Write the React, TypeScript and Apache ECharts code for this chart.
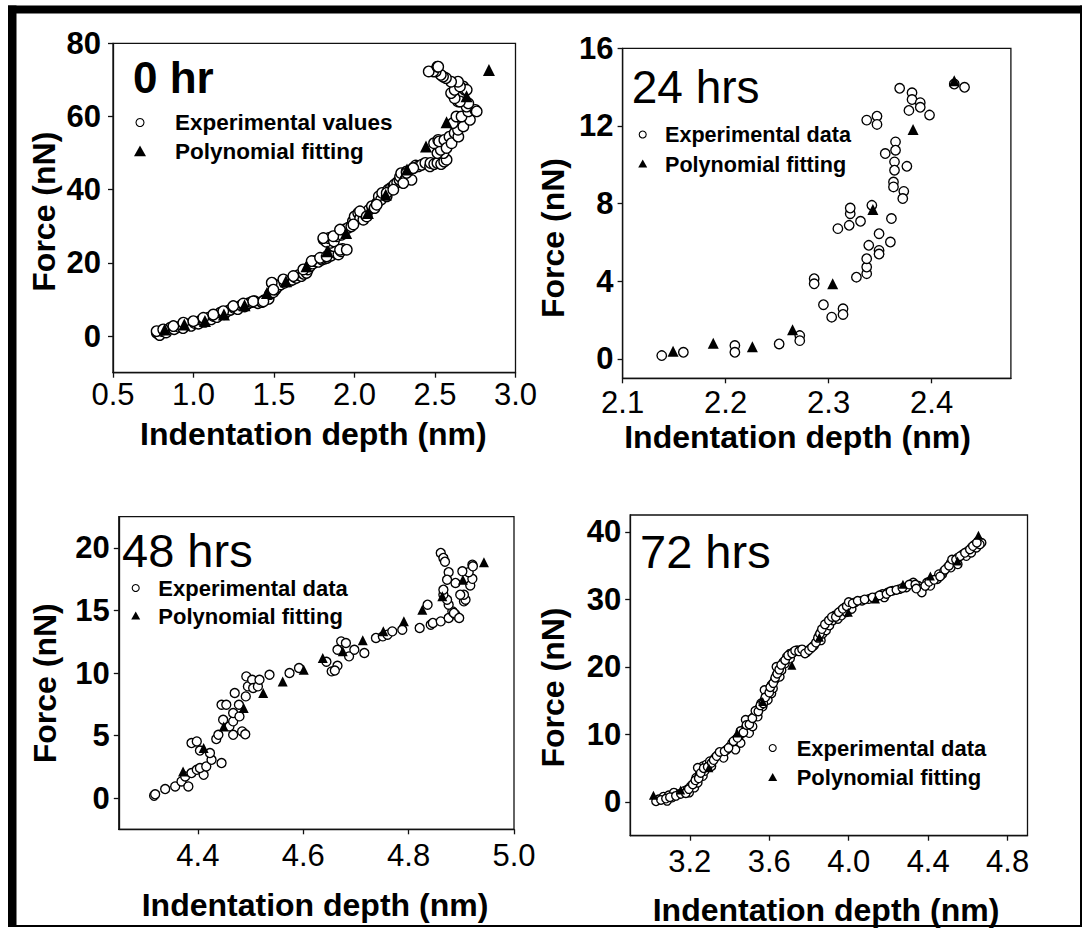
import React, { useEffect, useRef } from "react";
import * as echarts from "echarts";

const FONT = "'Liberation Sans', Arial, Helvetica, sans-serif";

// ---- 0 hr ----
const exp0: number[][] = [
  [0.772, 0.9], [0.79, 0.3], [0.804, 1.4], [0.83, 1.0], [0.857, 2.3], [0.88, 1.9], [0.911, 2.5], [0.935, 2.2],
  [0.964, 3.2], [0.985, 2.8], [1.007, 3.6], [1.03, 3.4], [1.05, 4.4], [1.07, 3.9], [1.092, 5.0], [1.11, 4.6],
  [1.124, 5.5], [1.145, 5.2], [1.167, 6.4], [1.19, 6.0], [1.21, 6.8], [1.23, 7.2], [1.253, 7.7], [1.275, 7.4],
  [1.296, 8.4], [1.318, 8.1], [1.338, 8.9], [1.36, 9.3], [1.381, 9.5], [1.4, 9.0], [1.424, 9.3], [1.44, 9.8],
  [1.467, 10.2], [1.475, 11.5], [1.488, 14.5], [1.495, 12.0], [1.509, 12.7], [1.52, 13.4], [1.541, 14.1],
  [1.565, 14.6], [1.595, 15.0], [1.615, 15.4], [1.638, 15.9], [1.655, 16.7], [1.67, 16.4], [1.685, 17.0],
  [1.702, 17.3], [1.71, 18.2], [1.723, 19.1], [1.74, 19.8], [1.755, 20.5], [1.775, 20.3], [1.798, 20.9],
  [1.815, 21.2], [1.83, 21.4], [1.855, 22.0], [1.884, 22.7], [1.9, 22.3], [1.916, 23.2], [1.926, 23.8],
  [1.87, 24.6], [1.85, 25.5], [1.808, 26.4], [1.825, 25.8], [1.84, 26.8], [1.872, 25.9], [1.89, 27.3],
  [1.905, 28.2], [1.92, 27.7], [1.937, 29.1], [1.96, 29.6], [1.98, 30.0], [1.99, 31.4], [2.001, 32.7],
  [2.023, 33.6], [2.035, 32.2], [2.055, 31.8], [2.07, 33.0], [2.09, 34.5], [2.108, 35.5], [2.125, 35.0],
  [2.14, 36.4], [2.151, 38.2], [2.165, 37.3], [2.172, 39.1], [2.2, 38.2], [2.21, 40.0], [2.226, 40.5],
  [2.241, 40.9], [2.248, 41.4], [2.265, 42.0], [2.279, 42.7], [2.283, 43.6], [2.29, 44.5], [2.314, 42.7],
  [2.322, 43.2], [2.324, 45.0], [2.354, 42.7], [2.365, 45.9], [2.38, 46.6], [2.397, 46.4], [2.417, 46.8],
  [2.44, 47.3], [2.469, 46.4], [2.472, 47.3], [2.495, 47.0], [2.515, 47.3], [2.538, 47.0], [2.557, 47.7],
  [2.572, 48.2], [2.553, 50.0], [2.515, 50.0], [2.536, 50.9], [2.494, 52.7], [2.52, 53.6], [2.526, 53.2],
  [2.558, 53.6], [2.572, 51.4], [2.59, 54.5], [2.603, 52.7], [2.622, 55.5], [2.645, 54.5], [2.643, 56.4],
  [2.676, 57.3], [2.611, 58.2], [2.717, 59.1], [2.633, 60.0], [2.665, 60.0], [2.707, 61.4], [2.75, 61.8],
  [2.759, 61.4], [2.696, 62.7], [2.707, 63.6], [2.643, 64.1], [2.655, 64.1], [2.614, 65.9], [2.622, 65.0],
  [2.6, 66.4], [2.622, 67.3], [2.675, 68.2], [2.686, 67.3], [2.697, 67.3], [2.655, 68.2], [2.643, 69.5],
  [2.6, 69.5], [2.568, 70.5], [2.55, 70.9], [2.536, 71.4], [2.504, 72.3], [2.489, 72.3], [2.461, 72.3],
  [2.515, 73.6], [2.52, 73.6],
  [0.771, 1.36], [0.812, 1.83], [0.875, 2.73], [0.937, 3.65], [0.999, 4.09], [1.061, 5.0], [1.123, 5.9],
  [1.185, 6.8], [1.247, 8.2], [1.309, 8.9], [1.371, 9.5], [1.434, 9.5], [1.486, 14.6], [1.496, 12.7],
  [1.558, 15.5], [1.62, 16.4], [1.682, 18.2], [1.734, 20.5], [1.786, 21.4], [1.827, 21.8], [1.806, 26.8],
  [1.868, 27.3], [1.91, 23.6], [1.952, 23.6], [1.91, 29.1], [1.993, 30.5], [2.034, 34.1], [2.076, 32.7],
  [2.138, 35.9], [2.2, 39.1], [2.241, 40.0], [2.303, 41.8], [2.324, 44.6], [2.365, 45.9],
];
const fit0: number[][] = [
  [0.821, 1.8], [0.943, 3.2], [1.071, 4.1], [1.189, 5.9], [1.317, 8.4], [1.456, 11.8], [1.574, 15.0],
  [1.702, 19.1], [1.83, 23.2], [1.948, 28.2], [2.083, 33.6], [2.194, 38.6], [2.326, 45.5], [2.444, 51.8],
  [2.572, 58.4], [2.696, 65.5], [2.835, 72.7],
];

// ---- 24 hrs ----
const exp24: number[][] = [
  [2.138, 0.17], [2.159, 0.34], [2.209, 0.69], [2.209, 0.34], [2.252, 0.77], [2.272, 1.2], [2.272, 0.94],
  [2.286, 4.13], [2.286, 3.87], [2.295, 2.79], [2.303, 2.15], [2.314, 2.58], [2.314, 2.29], [2.309, 6.71],
  [2.32, 6.88], [2.321, 7.48], [2.321, 7.77], [2.331, 7.09], [2.342, 7.91], [2.327, 4.21], [2.337, 4.39],
  [2.337, 4.73], [2.337, 5.16], [2.339, 5.85], [2.349, 5.59], [2.349, 5.4], [2.349, 6.45], [2.36, 6.02],
  [2.361, 7.23], [2.337, 12.3], [2.347, 12.5], [2.347, 12.08], [2.355, 10.58], [2.365, 11.18], [2.365, 10.75],
  [2.364, 10.15], [2.364, 9.72], [2.363, 9.11], [2.363, 8.86], [2.373, 8.63], [2.372, 8.26], [2.376, 9.92],
  [2.369, 13.94], [2.381, 13.71], [2.381, 13.36], [2.378, 12.8], [2.389, 13.2], [2.389, 12.96], [2.398, 12.56],
  [2.422, 14.16], [2.432, 13.99],
];
const fit24: number[][] = [
  [2.149, 0.39], [2.188, 0.81], [2.226, 0.63], [2.265, 1.5], [2.304, 3.87], [2.343, 7.69], [2.382, 11.82],
  [2.422, 14.33],
];

// ---- 48 hrs ----
const exp48: number[][] = [
  [4.317, 0.18], [4.319, 0.3], [4.338, 0.72], [4.357, 0.93], [4.369, 1.33], [4.382, 0.93], [4.376, 1.73],
  [4.388, 2.0], [4.398, 2.26], [4.411, 1.86], [4.404, 2.4], [4.416, 2.53], [4.426, 3.06], [4.423, 3.6],
  [4.445, 2.8], [4.388, 4.4], [4.398, 4.53], [4.404, 3.8], [4.435, 4.72], [4.439, 5.06], [4.448, 6.26],
  [4.445, 7.46], [4.454, 7.46], [4.46, 5.73], [4.467, 5.06], [4.467, 6.13], [4.467, 6.8], [4.47, 8.4],
  [4.478, 7.46], [4.479, 6.53], [4.484, 5.33], [4.49, 5.1], [4.491, 8.13], [4.495, 8.93], [4.492, 9.73],
  [4.503, 9.46], [4.505, 8.8], [4.514, 8.93], [4.517, 9.46], [4.536, 9.86], [4.574, 10.0], [4.592, 10.4],
  [4.644, 10.9], [4.654, 10.13], [4.665, 10.58], [4.66, 10.2], [4.672, 12.53], [4.665, 11.86], [4.681, 12.4],
  [4.687, 11.33], [4.697, 11.86], [4.716, 11.6], [4.738, 12.8], [4.751, 12.93], [4.76, 13.06], [4.769, 13.33],
  [4.788, 13.46], [4.821, 13.6], [4.842, 13.86], [4.846, 14.0], [4.861, 14.13], [4.836, 15.46], [4.876, 14.4],
  [4.889, 14.66], [4.883, 14.93], [4.886, 14.8], [4.896, 14.4], [4.876, 15.46], [4.873, 15.86], [4.866, 16.26],
  [4.866, 16.66], [4.905, 15.73], [4.908, 15.86], [4.905, 16.26], [4.898, 16.26], [4.917, 17.0], [4.921, 17.53],
  [4.914, 18.06], [4.921, 18.66], [4.922, 18.53], [4.876, 18.06], [4.873, 17.46], [4.889, 17.2], [4.902, 18.13],
  [4.861, 19.6], [4.866, 19.2], [4.869, 18.9],
];
const fit48: number[][] = [
  [4.372, 2.13], [4.411, 4.0], [4.449, 5.73], [4.487, 7.2], [4.524, 8.4], [4.561, 9.33], [4.601, 10.26],
  [4.637, 11.2], [4.675, 11.73], [4.713, 12.61], [4.752, 13.33], [4.791, 14.13], [4.826, 15.06], [4.864, 16.13],
  [4.903, 17.46], [4.943, 18.85],
];

// ---- 72 hrs ----
const exp72: number[][] = [
  [3.043, 0.4], [3.068, 0.79], [3.094, 0.99], [3.12, 1.38], [3.146, 1.14], [3.172, 1.63], [3.189, 1.87],
  [3.206, 2.36], [3.223, 2.85], [3.232, 3.59], [3.249, 4.08], [3.258, 4.81], [3.266, 5.3], [3.284, 5.55],
  [3.301, 6.04], [3.327, 6.53], [3.344, 7.02], [3.361, 7.26], [3.387, 7.75], [3.404, 8.24], [3.413, 8.73],
  [3.43, 9.22], [3.447, 9.71], [3.464, 10.2], [3.481, 10.94], [3.49, 11.67], [3.507, 12.16], [3.524, 12.65],
  [3.533, 13.14], [3.55, 13.88], [3.559, 14.61], [3.576, 15.1], [3.585, 15.84], [3.593, 16.57], [3.611, 17.31],
  [3.628, 18.05], [3.636, 18.78], [3.645, 19.27], [3.653, 20.01], [3.671, 20.74], [3.688, 21.48], [3.705, 21.97],
  [3.722, 22.21], [3.74, 22.46], [3.757, 22.46], [3.774, 22.31], [3.791, 22.21], [3.808, 22.7], [3.826, 23.19],
  [3.843, 23.93], [3.851, 24.66], [3.86, 25.15], [3.877, 25.89], [3.894, 26.62], [3.912, 27.11], [3.929, 27.6],
  [3.946, 27.85], [3.963, 28.34], [3.981, 28.83], [4.006, 29.32], [4.032, 29.56], [4.067, 29.81], [4.101, 30.05],
  [4.135, 30.3], [4.17, 30.79], [4.196, 31.03], [4.221, 31.28], [4.256, 31.52], [4.29, 31.77], [4.325, 32.5],
  [4.351, 32.01], [4.376, 31.77], [4.394, 32.5], [4.419, 32.75], [4.445, 32.99], [4.471, 33.73], [4.497, 34.71],
  [4.514, 35.44], [4.531, 35.69], [4.549, 36.18], [4.574, 36.67], [4.6, 37.16], [4.617, 37.65], [4.635, 38.14],
  [4.652, 38.63], [4.669, 38.38],
  [3.086, 0.16], [3.111, 0.65], [3.197, 1.38], [3.223, 2.12], [3.24, 2.85], [3.266, 3.83], [3.275, 4.57],
  [3.24, 5.06], [3.309, 5.3], [3.37, 6.53], [3.43, 7.75], [3.456, 8.73], [3.499, 10.2], [3.516, 11.18],
  [3.481, 12.16], [3.542, 12.65], [3.567, 14.12], [3.593, 15.1], [3.611, 16.08], [3.576, 16.57], [3.619, 16.82],
  [3.653, 18.54], [3.662, 19.52], [3.636, 20.01], [3.679, 20.5], [3.705, 21.23], [3.86, 23.93], [3.869, 24.91],
  [3.886, 25.4], [3.903, 26.13], [3.92, 26.87], [3.946, 27.11], [3.963, 27.6], [3.989, 28.09], [4.015, 28.58],
  [4.179, 30.3], [4.359, 31.52], [4.368, 31.03], [4.411, 32.01], [4.454, 33.73], [4.48, 34.22], [4.514, 34.71],
  [4.549, 35.2], [4.592, 36.42], [4.617, 36.91], [4.643, 37.65], [4.66, 38.14],
  [3.03, 0.1], [3.055, 0.3], [3.08, 0.5], [3.1, 0.7], [3.13, 0.9], [3.155, 1.2], [3.18, 1.3], [3.195, 1.9],
  [3.215, 2.6], [3.228, 3.2], [3.245, 3.5], [3.255, 4.3], [3.27, 5.0], [3.29, 5.2], [3.31, 5.8], [3.32, 6.2],
  [3.335, 6.8], [3.35, 7.4], [3.375, 7.5], [3.395, 8.0], [3.42, 9.0], [3.44, 9.5], [3.455, 10.5], [3.47, 10.3],
  [3.485, 11.4], [3.5, 11.5], [3.515, 12.4], [3.53, 13.5], [3.545, 13.4], [3.555, 14.3], [3.57, 14.6],
  [3.58, 15.5], [3.6, 16.2], [3.605, 17.0], [3.62, 17.6], [3.63, 18.4], [3.64, 19.0], [3.65, 19.6], [3.66, 20.3],
  [3.68, 21.0], [3.695, 21.7], [3.715, 22.0], [3.73, 22.4], [3.75, 22.3], [3.765, 22.6], [3.78, 22.0],
  [3.8, 22.5], [3.815, 22.9], [3.835, 23.6], [3.845, 24.3], [3.855, 24.9], [3.865, 25.6], [3.88, 26.3],
  [3.9, 26.9], [3.915, 27.4], [3.935, 27.4], [3.95, 28.1], [3.97, 28.6], [3.99, 29.0], [4.0, 29.6], [4.02, 29.4],
  [4.045, 29.8], [4.08, 30.0], [4.12, 30.3], [4.155, 30.6], [4.19, 30.8], [4.21, 31.2], [4.24, 31.4], [4.27, 31.7],
  [4.305, 32.2], [4.335, 32.2], [4.34, 31.6], [4.385, 32.0], [4.405, 32.6], [4.43, 32.9], [4.46, 33.4],
  [4.485, 34.4], [4.505, 35.0], [4.52, 35.9], [4.54, 35.9], [4.56, 36.4], [4.585, 36.9], [4.61, 37.4],
  [4.625, 37.9], [4.645, 38.4],
];
const fit72: number[][] = [
  [3.017, 0.99], [3.154, 1.77], [3.296, 5.06], [3.438, 10.2], [3.567, 14.86], [3.714, 20.25], [3.852, 24.41],
  [3.998, 28.09], [4.135, 30.05], [4.273, 32.26], [4.411, 33.48], [4.548, 35.68], [4.653, 39.5],
];

// ---- ticks, ranges, labels ----
const xTicks0 = [0.5, 1.0, 1.5, 2.0, 2.5, 3.0];
const yTicks0 = [0, 20, 40, 60, 80];
const xTicks24 = [2.1, 2.2, 2.3, 2.4];
const yTicks24 = [0, 4, 8, 12, 16];
const xTicks48 = [4.4, 4.6, 4.8, 5.0];
const yTicks48 = [0, 5, 10, 15, 20];
const xTicks72 = [3.2, 3.6, 4.0, 4.4, 4.8];
const yTicks72 = [0, 10, 20, 30, 40];

const xRanges = [[0.5, 3.0], [2.1, 2.477], [4.25, 5.0], [2.9, 4.9]];
const yRanges = [[-10, 80], [-1, 16], [-2.5, 22.5], [-5, 42.5]];

const panelLabels = ["0 hr", "24 hrs", "48 hrs", "72 hrs"];
const expNames = ["Experimental values", "Experimental data", "Experimental data", "Experimental data"];
const fitName = "Polynomial fitting";
const xTitle = "Indentation depth (nm)";
const yTitle = "Force (nN)";

// ---- layout (pixels) ----
const layouts = [
  {
    grid: { left: 113, top: 43.3, width: 402.5, height: 329.4 },
    xMargin: 6, yMargin: 12,
    label: { x: 133, y: 77, size: 44, weight: "bold" },
    legend: { cx: 140, y1: 122.5, y2: 151.5, tx: 175, r: 4, tri: 6, size: 22.5 },
    xt: { x: 313.4, y: 434 }, yt: { x: 44, y: 211.7 },
    sym: 10.5, triSize: 12,
  },
  {
    grid: { left: 622.6, top: 48.3, width: 388.3, height: 330 },
    xMargin: 9, yMargin: 9,
    label: { x: 631.7, y: 86.7, size: 46, weight: "normal" },
    legend: { cx: 642.7, y1: 134.5, y2: 164, tx: 665, r: 3.5, tri: 4.5, size: 21.6 },
    xt: { x: 797.5, y: 437 }, yt: { x: 553, y: 238 },
    sym: 9.5, triSize: 11,
  },
  {
    grid: { left: 118.8, top: 516.7, width: 395.2, height: 312.6 },
    xMargin: 11, yMargin: 9,
    label: { x: 122, y: 550, size: 47, weight: "normal" },
    legend: { cx: 135.7, y1: 588, y2: 616, tx: 158.3, r: 3.5, tri: 4.5, size: 22 },
    xt: { x: 315, y: 905 }, yt: { x: 44.8, y: 683.3 },
    sym: 9, triSize: 10,
  },
  {
    grid: { left: 630.2, top: 515, width: 397.3, height: 320.7 },
    xMargin: 10, yMargin: 9,
    label: { x: 640, y: 551, size: 47, weight: "normal" },
    legend: { cx: 772.7, y1: 748, y2: 777.5, tx: 796.7, r: 3.5, tri: 4.5, size: 22 },
    xt: { x: 826, y: 910 }, yt: { x: 553, y: 687.5 },
    sym: 8.5, triSize: 9,
  },
];

const expSets = [exp0, exp24, exp48, exp72];
const fitSets = [fit0, fit24, fit48, fit72];
const xTickSets = [xTicks0, xTicks24, xTicks48, xTicks72];
const yTickSets = [yTicks0, yTicks24, yTicks48, yTicks72];

function buildOption(): echarts.EChartsOption {
  const grids: any[] = [];
  const xAxes: any[] = [];
  const yAxes: any[] = [];
  const series: any[] = [];
  const graphics: any[] = [];

  layouts.forEach((L, i) => {
    grids.push({
      ...L.grid,
      show: true,
      borderColor: "#111",
      borderWidth: 1.3,
      backgroundColor: "transparent",
      containLabel: false,
    });
    xAxes.push({
      gridIndex: i,
      type: "value",
      min: xRanges[i][0],
      max: xRanges[i][1],
      axisLine: { show: true, onZero: false, lineStyle: { color: "#111", width: 1.3 } },
      axisTick: { show: true, inside: false, length: 5, customValues: xTickSets[i], lineStyle: { color: "#111", width: 1.3 } },
      axisLabel: {
        customValues: xTickSets[i],
        formatter: (v: number) => v.toFixed(1),
        margin: L.xMargin,
        fontFamily: FONT,
        fontSize: 31,
        color: "#000",
      },
      splitLine: { show: false },
    });
    yAxes.push({
      gridIndex: i,
      type: "value",
      min: yRanges[i][0],
      max: yRanges[i][1],
      axisLine: { show: true, onZero: false, lineStyle: { color: "#111", width: 1.3 } },
      axisTick: { show: true, inside: false, length: 5, customValues: yTickSets[i], lineStyle: { color: "#111", width: 1.3 } },
      axisLabel: {
        customValues: yTickSets[i],
        formatter: (v: number) => String(v),
        margin: L.yMargin,
        fontFamily: FONT,
        fontSize: 31,
        fontWeight: "bold",
        color: "#000",
      },
      splitLine: { show: false },
    });
    series.push({
      name: expNames[i],
      type: "scatter",
      xAxisIndex: i,
      yAxisIndex: i,
      data: expSets[i],
      symbol: "circle",
      symbolSize: L.sym,
      itemStyle: { color: "#fff", borderColor: "#000", borderWidth: 1.35, opacity: 1 },
      emphasis: { disabled: true },
      z: 2,
    });
    series.push({
      name: fitName,
      type: "scatter",
      xAxisIndex: i,
      yAxisIndex: i,
      data: fitSets[i],
      symbol: "triangle",
      symbolSize: L.triSize,
      itemStyle: { color: "#000", opacity: 1 },
      emphasis: { disabled: true },
      z: 3,
    });

    // panel label
    graphics.push({
      type: "text",
      x: L.label.x,
      y: L.label.y,
      style: {
        text: panelLabels[i],
        fontFamily: FONT,
        fontSize: L.label.size,
        fontWeight: L.label.weight,
        fill: "#000",
        align: "left",
        verticalAlign: "middle",
      },
      z: 10,
    });
    // legend
    const g = L.legend;
    graphics.push({
      type: "circle",
      shape: { cx: g.cx, cy: g.y1, r: g.r },
      style: { fill: "#fff", stroke: "#000", lineWidth: 1.1 },
      z: 10,
    });
    graphics.push({
      type: "polygon",
      shape: {
        points: [
          [g.cx, g.y2 - g.tri],
          [g.cx - g.tri, g.y2 + g.tri * 0.8],
          [g.cx + g.tri, g.y2 + g.tri * 0.8],
        ],
      },
      style: { fill: "#000" },
      z: 10,
    });
    graphics.push({
      type: "text",
      x: g.tx,
      y: g.y1,
      style: { text: expNames[i], fontFamily: FONT, fontSize: g.size, fontWeight: "bold", fill: "#000", align: "left", verticalAlign: "middle" },
      z: 10,
    });
    graphics.push({
      type: "text",
      x: g.tx,
      y: g.y2,
      style: { text: fitName, fontFamily: FONT, fontSize: g.size, fontWeight: "bold", fill: "#000", align: "left", verticalAlign: "middle" },
      z: 10,
    });
    // axis titles
    graphics.push({
      type: "text",
      x: L.xt.x,
      y: L.xt.y,
      style: { text: xTitle, fontFamily: FONT, fontSize: 32, fontWeight: "bold", fill: "#000", align: "center", verticalAlign: "middle" },
      z: 10,
    });
    graphics.push({
      type: "text",
      x: L.yt.x,
      y: L.yt.y,
      rotation: Math.PI / 2,
      style: { text: yTitle, fontFamily: FONT, fontSize: 32, fontWeight: "bold", fill: "#000", align: "center", verticalAlign: "middle" },
      z: 10,
    });
  });

  // outer frame: heavy top/left edges, thin right/bottom edges
  graphics.push({ type: "rect", shape: { x: 8, y: 5.5, width: 1074, height: 8 }, style: { fill: "#000" }, z: 20 });
  graphics.push({ type: "rect", shape: { x: 8, y: 5.5, width: 8.5, height: 921 }, style: { fill: "#000" }, z: 20 });
  graphics.push({ type: "rect", shape: { x: 1080, y: 5.5, width: 2, height: 921 }, style: { fill: "#000" }, z: 20 });
  graphics.push({ type: "rect", shape: { x: 8, y: 925, width: 1074, height: 2 }, style: { fill: "#000" }, z: 20 });

  return {
    animation: false,
    backgroundColor: "#fff",
    grid: grids,
    xAxis: xAxes,
    yAxis: yAxes,
    series,
    graphic: graphics,
  } as echarts.EChartsOption;
}

export default function App() {
  const ref = useRef<HTMLDivElement | null>(null);
  useEffect(() => {
    if (!ref.current) return;
    const chart = echarts.init(ref.current, undefined, { renderer: "svg" });
    chart.setOption(buildOption());
    return () => chart.dispose();
  }, []);
  return (
    <div
      ref={ref}
      style={{ position: "fixed", left: 0, top: 0, width: 1084, height: 928, background: "#fff" }}
    />
  );
}
